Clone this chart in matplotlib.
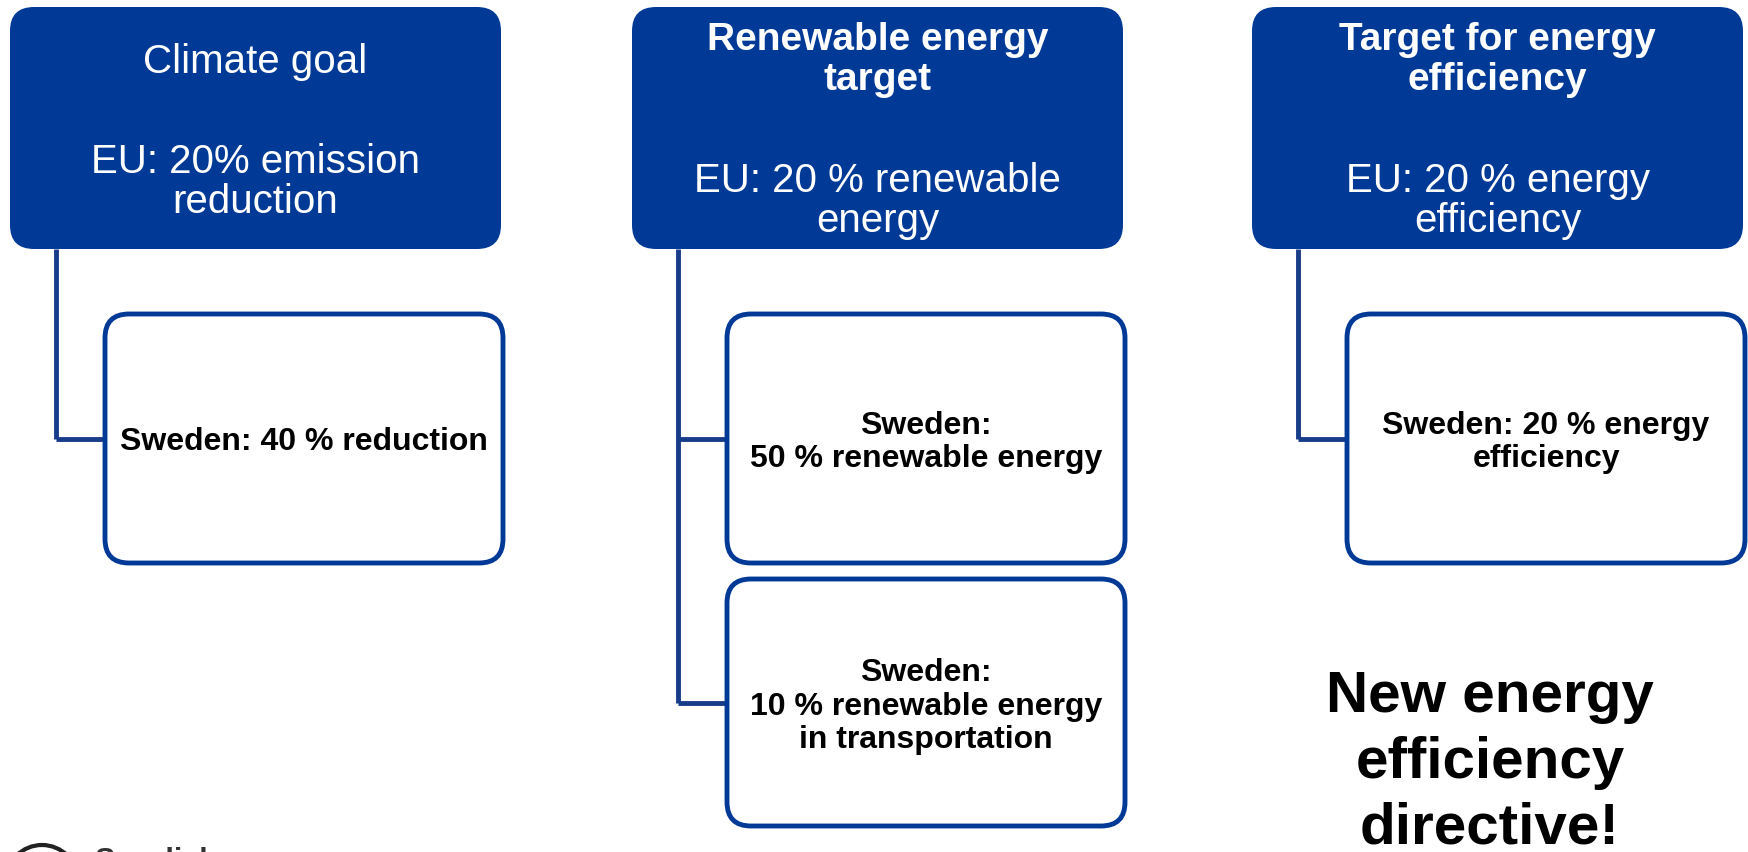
import matplotlib
matplotlib.use("Agg")
import matplotlib.pyplot as plt
from matplotlib.patches import FancyBboxPatch, Circle

plt.rcParams['font.family'] = ['Liberation Sans', 'DejaVu Sans']

# content
titles = ['Climate goal', 'Renewable energy\ntarget', 'Target for energy\nefficiency']
title_bold = [False, True, True]
eu_goals = ['EU: 20% emission\nreduction', 'EU: 20 % renewable\nenergy', 'EU: 20 % energy\nefficiency']
sweden_goals = [
    ['Sweden: 40 % reduction'],
    ['Sweden:\n50 % renewable energy', 'Sweden:\n10 % renewable energy\nin transportation'],
    ['Sweden: 20 % energy\nefficiency'],
]
note = 'New energy\nefficiency\ndirective!'

blue = '#003A96'
line_blue = '#163C8A'

W, H = 1748, 853
fig = plt.figure(figsize=(W / 100, H / 100), dpi=100)
ax = fig.add_axes([0, 0, 1, 1])
ax.set_xlim(0, W)
ax.set_ylim(H, 0)
ax.axis('off')

# layout (pixels)
head_x = [10, 632, 1252]
head_w = 491
head_top, head_bot = 8, 250
child_dx = 95
child_w = 398
child_rows = [(315, 564), (580, 827)]
line_dx = 46

for i in range(3):
    x0 = head_x[i]
    ax.add_patch(FancyBboxPatch((x0, head_top), head_w, head_bot - head_top,
                                boxstyle='round,pad=0,rounding_size=24',
                                fc=blue, ec='none', zorder=2))
    if title_bold[i]:
        ax.text(x0 + head_w / 2, 60, titles[i], ha='center', va='center',
                color='white', fontsize=28, fontweight='bold', linespacing=1.12)
    else:
        ax.text(x0 + head_w / 2, 62, titles[i], ha='center', va='center',
                color='white', fontsize=29)
    ax.text(x0 + head_w / 2, 201 if i else 182, eu_goals[i], ha='center', va='center',
            color='white', fontsize=29, linespacing=1.05)

    kids = sweden_goals[i]
    lx = x0 + line_dx
    cx = x0 + child_dx
    ys = []
    for k, txt in enumerate(kids):
        top, bot = child_rows[k]
        ax.add_patch(FancyBboxPatch((cx, top), child_w, bot - top,
                                    boxstyle='round,pad=0,rounding_size=24',
                                    fc='white', ec=blue, lw=3.5, zorder=2))
        mid = (top + bot) / 2
        ys.append(mid)
        ax.text(cx + child_w / 2, mid + 3, txt, ha='center', va='center',
                color='black', fontsize=23, fontweight='bold', linespacing=1.14)
    ax.plot([lx, lx], [head_bot, ys[-1]], color=line_blue, lw=3.5,
            solid_capstyle='butt', zorder=1)
    for y in ys:
        ax.plot([lx, cx], [y, y], color=line_blue, lw=3.5,
                solid_capstyle='butt', zorder=1)

ax.text(1490, 763, note, ha='center', va='center', color='black',
        fontsize=42, fontweight='bold', linespacing=1.28)

# logo cut off at the bottom edge
ax.add_patch(Circle((42, 882), 36, fc='none', ec='#222222', lw=3, clip_on=False))
ax.text(94, 847, 'Swedish\nEnergy Agency', ha='left', va='top', color='#333333',
        fontsize=22, fontweight='bold')

fig.savefig('out.png', dpi=100)
